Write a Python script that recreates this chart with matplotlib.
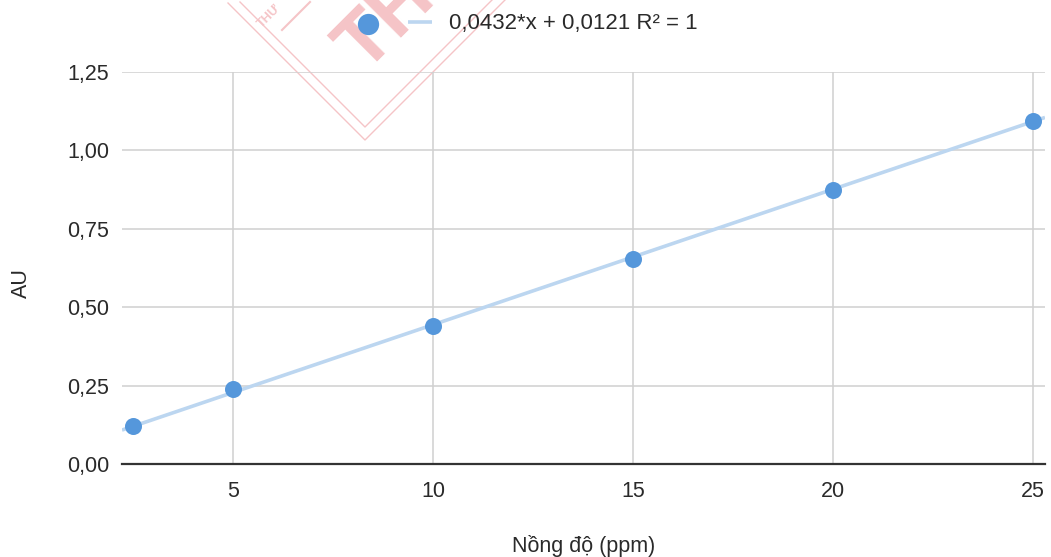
import numpy as np
import matplotlib.pyplot as plt
from matplotlib.lines import Line2D

plt.rcParams["font.family"] = ["Liberation Sans", "DejaVu Sans"]

# calibration points
conc_ppm = [2.5, 5, 10, 15, 20, 25]
absorbance = [0.12, 0.24, 0.44, 0.655, 0.875, 1.095]

# linear trendline (slope, intercept) and its label
slope = 0.0432
intercept = 0.0121
trend_label = "0,0432*x + 0,0121 R² = 1"

x_ticks = [5, 10, 15, 20, 25]
y_ticks = [0.0, 0.25, 0.5, 0.75, 1.0, 1.25]
y_tick_labels = ["0,00", "0,25", "0,50", "0,75", "1,00", "1,25"]

POINT_COLOR = "#5597db"
TREND_COLOR = "#bcd6f0"
TEXT_COLOR = "#2a2a2a"
GRID_COLOR = "#d0d0d0"
MARK_COLOR = "#f5c4c7"
FS = 15.5

W, H = 1051, 557
fig = plt.figure(figsize=(W / 100, H / 100), dpi=100)
ax = fig.add_axes([122 / W, 93 / H, 923 / W, 392 / H])
ax.patch.set_visible(False)

xlim = (2.225, 25.3)
ax.set_xlim(*xlim)
ax.set_ylim(0, 1.25)

xs = np.array(xlim)
(trend_line,) = ax.plot(xs, slope * xs + intercept, color=TREND_COLOR,
                        lw=2.6, solid_capstyle="butt", zorder=3)
points = ax.scatter(conc_ppm, absorbance, s=150, color=POINT_COLOR,
                    zorder=4, linewidths=0)

ax.set_xticks(x_ticks)
ax.set_yticks(y_ticks)
ax.set_yticklabels(y_tick_labels)
ax.tick_params(axis="both", length=0, labelsize=FS, colors=TEXT_COLOR)
ax.tick_params(axis="y", pad=9.4)
ax.tick_params(axis="x", pad=12)

ax.grid(True, color=GRID_COLOR, lw=1.1)
ax.set_axisbelow(True)
for side in ("left", "right", "top"):
    ax.spines[side].set_visible(False)
ax.spines["bottom"].set_color("#333333")
ax.spines["bottom"].set_linewidth(1.6)
ax.spines["bottom"].set_zorder(2.5)

ax.set_ylabel("AU", fontsize=FS, color=TEXT_COLOR)
ax.yaxis.set_label_coords(-0.098, 0.462)
ax.set_xlabel("Nồng độ (ppm)", fontsize=FS, color=TEXT_COLOR)
ax.xaxis.label.set_va("center")
ax.xaxis.set_label_coords(0.5, -0.209)

# watermark stamp in the upper-left corner
def fig_pt(px, py):
    return px / W, 1 - py / H

for (x0, y0), (x1, y1), (x2, y2) in [
    ((228, 3), (365, 140), (508, -3)),
    ((240, 2), (365, 127), (492, 0)),
]:
    a, b, c = fig_pt(x0, y0), fig_pt(x1, y1), fig_pt(x2, y2)
    fig.add_artist(Line2D([a[0], b[0], c[0]], [a[1], b[1], c[1]],
                          transform=fig.transFigure, color=MARK_COLOR,
                          lw=1.0, zorder=-1))
p, q = fig_pt(282, 30), fig_pt(310, 2)
fig.add_artist(Line2D([p[0], q[0]], [p[1], q[1]], transform=fig.transFigure,
                      color=MARK_COLOR, lw=1.5, zorder=-1))
fig.text(*fig_pt(262, 28), "THƯ", fontsize=9, fontweight="bold",
         color=MARK_COLOR, rotation=45, rotation_mode="anchor",
         ha="left", va="baseline", zorder=-1)
fig.text(*fig_pt(364, 74), "TH", fontsize=56, fontweight="bold",
         color=MARK_COLOR, rotation=45, rotation_mode="anchor",
         ha="left", va="baseline", zorder=-1)

leg = fig.legend([points, trend_line], ["", trend_label], ncol=2,
                 frameon=False, loc="center left",
                 bbox_to_anchor=fig_pt(356, 24), borderpad=0,
                 borderaxespad=0, fontsize=16, handlelength=1.05,
                 handletextpad=0.8, columnspacing=0.5,
                 markerscale=1.25, labelcolor=TEXT_COLOR)
leg.set_zorder(5)

fig.savefig("out.png", dpi=100)
